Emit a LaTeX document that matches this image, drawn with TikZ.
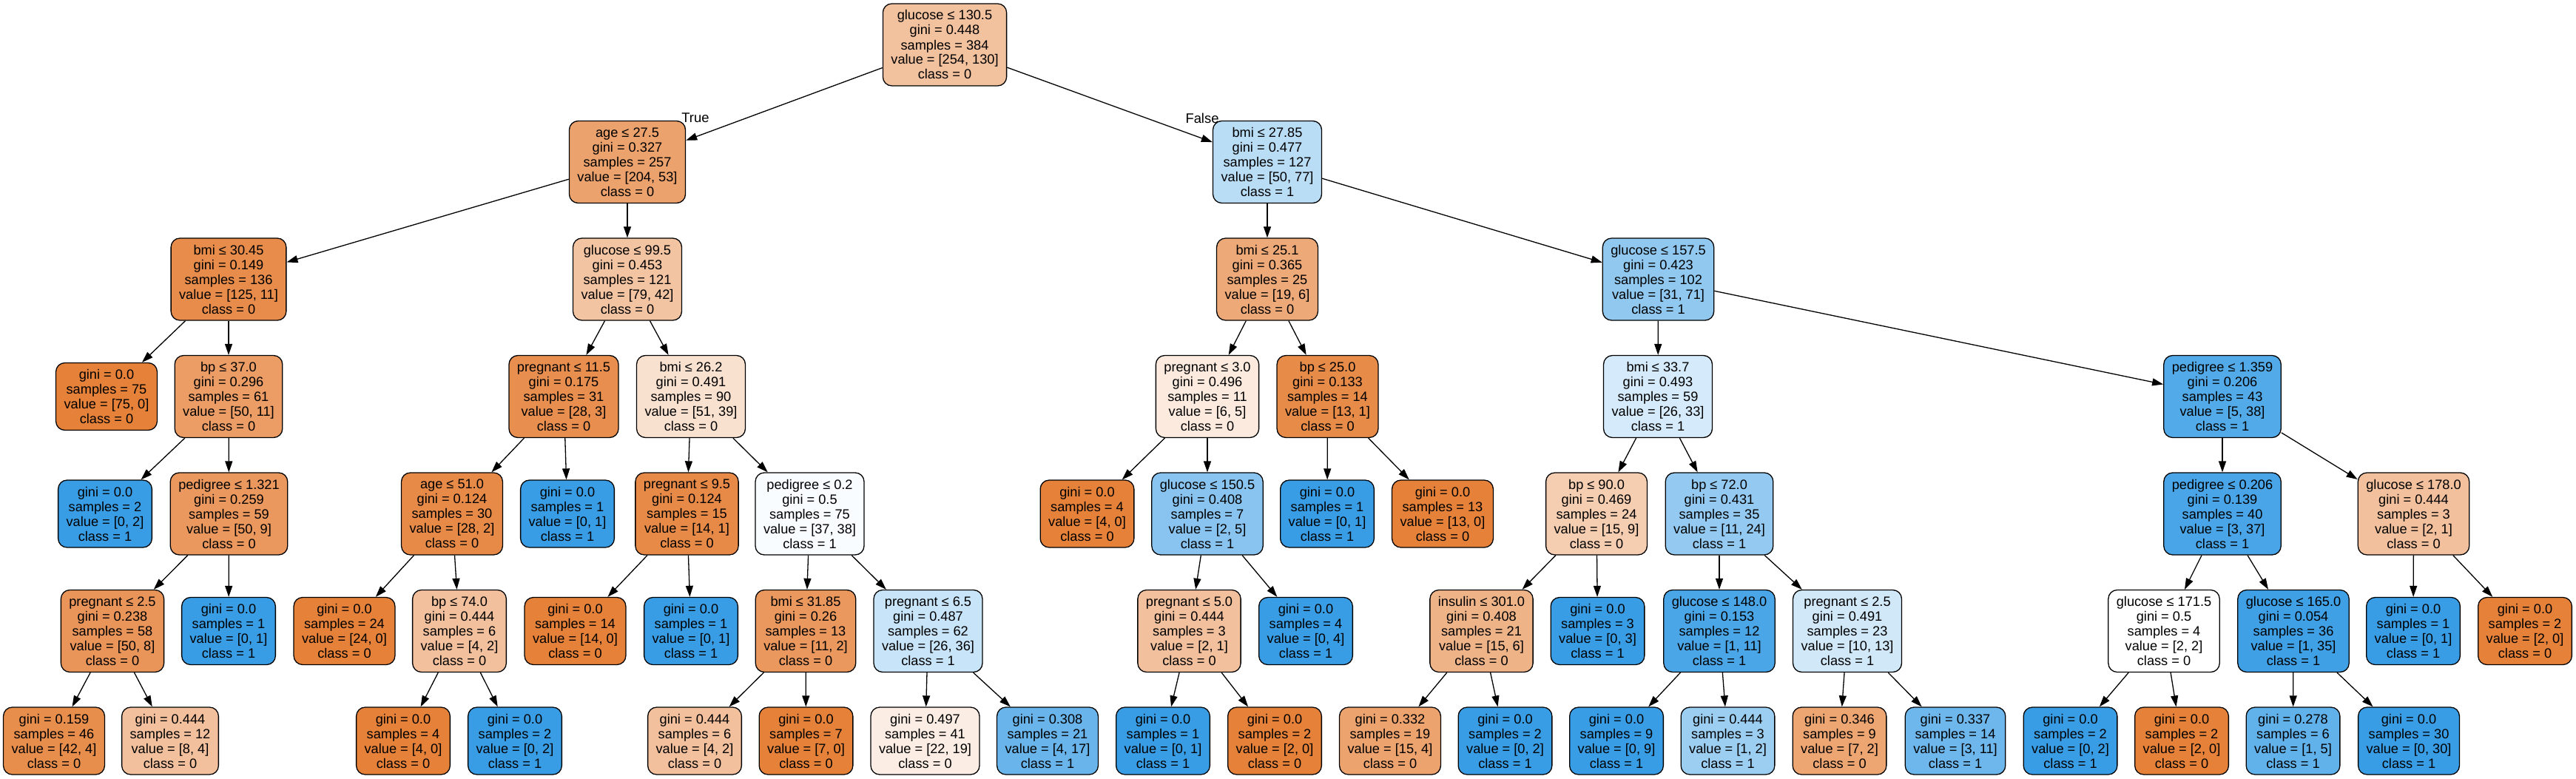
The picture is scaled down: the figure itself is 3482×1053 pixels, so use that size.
\documentclass[tikz,border=0pt]{standalone}
\usepackage{fontspec}
\setmainfont{Liberation Sans}
\usetikzlibrary{arrows.meta}
\definecolor{co}{RGB}{229,129,57}
\definecolor{cb}{RGB}{57,157,229}
\begin{document}
\begin{tikzpicture}[x=0.5pt,y=-0.5pt,
  tn/.style={draw=black, line width=0.65pt, rounded corners=6pt, align=center,
    inner xsep=5.5pt, inner ysep=1pt, font=\fontsize{9.1}{10}\selectfont},
  inn/.style={tn, minimum height=55.5pt},
  lf/.style={tn, minimum height=45.5pt},
  ed/.style={line width=0.65pt, -{Triangle[length=7.5pt,width=5pt]}},
  lbl/.style={font=\fontsize{9.2}{10}\selectfont, inner sep=0pt}]
\fill[white] (0,0) rectangle (3482,1053);
\useasboundingbox (0,0) rectangle (3482,1053);
% level 0
\node[inn, fill=co!49!white] (R) at (1277,60.5) {glucose ≤ 130.5\\gini = 0.448\\samples = 384\\value = [254, 130]\\class = 0};
% level 1
\node[inn, fill=co!74!white] (A) at (848,219) {age ≤ 27.5\\gini = 0.327\\samples = 257\\value = [204, 53]\\class = 0};
\node[inn, fill=cb!35!white] (B) at (1713,219) {bmi ≤ 27.85\\gini = 0.477\\samples = 127\\value = [50, 77]\\class = 1};
% level 2
\node[inn, fill=co!91!white] (AL) at (309,377.5) {bmi ≤ 30.45\\gini = 0.149\\samples = 136\\value = [125, 11]\\class = 0};
\node[inn, fill=co!47!white] (AR) at (848,377.5) {glucose ≤ 99.5\\gini = 0.453\\samples = 121\\value = [79, 42]\\class = 0};
\node[inn, fill=co!68!white] (BL) at (1713,377.5) {bmi ≤ 25.1\\gini = 0.365\\samples = 25\\value = [19, 6]\\class = 0};
\node[inn, fill=cb!56!white] (BR) at (2241.5,377.5) {glucose ≤ 157.5\\gini = 0.423\\samples = 102\\value = [31, 71]\\class = 1};
% level 3
\node[lf, fill=co] (ALL) at (144,536) {gini = 0.0\\samples = 75\\value = [75, 0]\\class = 0};
\node[inn, fill=co!78!white] (ALR) at (309,536) {bp ≤ 37.0\\gini = 0.296\\samples = 61\\value = [50, 11]\\class = 0};
\node[inn, fill=co!89!white] (ARL) at (762,536) {pregnant ≤ 11.5\\gini = 0.175\\samples = 31\\value = [28, 3]\\class = 0};
\node[inn, fill=co!24!white] (ARR) at (934,536) {bmi ≤ 26.2\\gini = 0.491\\samples = 90\\value = [51, 39]\\class = 0};
\node[inn, fill=co!17!white] (BLL) at (1632,536) {pregnant ≤ 3.0\\gini = 0.496\\samples = 11\\value = [6, 5]\\class = 0};
\node[inn, fill=co!92!white] (BLR) at (1794.5,536) {bp ≤ 25.0\\gini = 0.133\\samples = 14\\value = [13, 1]\\class = 0};
\node[inn, fill=cb!21!white] (BRL) at (2241,536) {bmi ≤ 33.7\\gini = 0.493\\samples = 59\\value = [26, 33]\\class = 1};
\node[inn, fill=cb!87!white] (BRR) at (3004,536) {pedigree ≤ 1.359\\gini = 0.206\\samples = 43\\value = [5, 38]\\class = 1};
% level 4
\node[lf, fill=cb] (ALRL) at (142,694.5) {gini = 0.0\\samples = 2\\value = [0, 2]\\class = 1};
\node[inn, fill=co!82!white] (ALRR) at (309.5,694.5) {pedigree ≤ 1.321\\gini = 0.259\\samples = 59\\value = [50, 9]\\class = 0};
\node[inn, fill=co!93!white] (ARLL) at (611,694.5) {age ≤ 51.0\\gini = 0.124\\samples = 30\\value = [28, 2]\\class = 0};
\node[lf, fill=cb] (ARLR) at (767,694.5) {gini = 0.0\\samples = 1\\value = [0, 1]\\class = 1};
\node[inn, fill=co!93!white] (ARRL) at (928.5,694.5) {pregnant ≤ 9.5\\gini = 0.124\\samples = 15\\value = [14, 1]\\class = 0};
\node[inn, fill=cb!3!white] (ARRR) at (1094.5,694.5) {pedigree ≤ 0.2\\gini = 0.5\\samples = 75\\value = [37, 38]\\class = 1};
\node[lf, fill=co] (BLLL) at (1469.5,694.5) {gini = 0.0\\samples = 4\\value = [4, 0]\\class = 0};
\node[inn, fill=cb!60!white] (BLLR) at (1632,694.5) {glucose ≤ 150.5\\gini = 0.408\\samples = 7\\value = [2, 5]\\class = 1};
\node[lf, fill=cb] (BLRL) at (1794,694.5) {gini = 0.0\\samples = 1\\value = [0, 1]\\class = 1};
\node[lf, fill=co] (BLRR) at (1950,694.5) {gini = 0.0\\samples = 13\\value = [13, 0]\\class = 0};
\node[inn, fill=co!40!white] (BRLL) at (2158,694.5) {bp ≤ 90.0\\gini = 0.469\\samples = 24\\value = [15, 9]\\class = 0};
\node[inn, fill=cb!54!white] (BRLR) at (2324,694.5) {bp ≤ 72.0\\gini = 0.431\\samples = 35\\value = [11, 24]\\class = 1};
\node[inn, fill=cb!92!white] (BRRL) at (3004,694.5) {pedigree ≤ 0.206\\gini = 0.139\\samples = 40\\value = [3, 37]\\class = 1};
\node[inn, fill=co!50!white] (BRRR) at (3262.5,694.5) {glucose ≤ 178.0\\gini = 0.444\\samples = 3\\value = [2, 1]\\class = 0};
% level 5
\node[inn, fill=co!84!white] (ALRRL) at (152,853) {pregnant ≤ 2.5\\gini = 0.238\\samples = 58\\value = [50, 8]\\class = 0};
\node[lf, fill=cb] (ALRRR) at (309,853) {gini = 0.0\\samples = 1\\value = [0, 1]\\class = 1};
\node[lf, fill=co] (ARLLL) at (465.5,853) {gini = 0.0\\samples = 24\\value = [24, 0]\\class = 0};
\node[inn, fill=co!50!white] (ARLLR) at (621,853) {bp ≤ 74.0\\gini = 0.444\\samples = 6\\value = [4, 2]\\class = 0};
\node[lf, fill=co] (ARRLL) at (777.5,853) {gini = 0.0\\samples = 14\\value = [14, 0]\\class = 0};
\node[lf, fill=cb] (ARRLR) at (934,853) {gini = 0.0\\samples = 1\\value = [0, 1]\\class = 1};
\node[inn, fill=co!82!white] (ARRRL) at (1089,853) {bmi ≤ 31.85\\gini = 0.26\\samples = 13\\value = [11, 2]\\class = 0};
\node[inn, fill=cb!28!white] (ARRRR) at (1254.5,853) {pregnant ≤ 6.5\\gini = 0.487\\samples = 62\\value = [26, 36]\\class = 1};
\node[inn, fill=co!50!white] (BLLRL) at (1607.5,853) {pregnant ≤ 5.0\\gini = 0.444\\samples = 3\\value = [2, 1]\\class = 0};
\node[lf, fill=cb] (BLLRR) at (1765,853) {gini = 0.0\\samples = 4\\value = [0, 4]\\class = 1};
\node[inn, fill=co!60!white] (BRLLL) at (2002.5,853) {insulin ≤ 301.0\\gini = 0.408\\samples = 21\\value = [15, 6]\\class = 0};
\node[lf, fill=cb] (BRLLR) at (2159.5,853) {gini = 0.0\\samples = 3\\value = [0, 3]\\class = 1};
\node[inn, fill=cb!91!white] (BRLRL) at (2324,853) {glucose ≤ 148.0\\gini = 0.153\\samples = 12\\value = [1, 11]\\class = 1};
\node[inn, fill=cb!23!white] (BRLRR) at (2497,853) {pregnant ≤ 2.5\\gini = 0.491\\samples = 23\\value = [10, 13]\\class = 1};
\node[inn, fill=white] (BRRLL) at (2925,853) {glucose ≤ 171.5\\gini = 0.5\\samples = 4\\value = [2, 2]\\class = 0};
\node[inn, fill=cb!97!white] (BRRLR) at (3100,853) {glucose ≤ 165.0\\gini = 0.054\\samples = 36\\value = [1, 35]\\class = 1};
\node[lf, fill=cb] (BRRRL) at (3262,853) {gini = 0.0\\samples = 1\\value = [0, 1]\\class = 1};
\node[lf, fill=co] (BRRRR) at (3413,853) {gini = 0.0\\samples = 2\\value = [2, 0]\\class = 0};
% level 6
\node[lf, fill=co!90!white] (Ga) at (73,1001.5) {gini = 0.159\\samples = 46\\value = [42, 4]\\class = 0};
\node[lf, fill=co!50!white] (Gb) at (230,1001.5) {gini = 0.444\\samples = 12\\value = [8, 4]\\class = 0};
\node[lf, fill=co] (Gc) at (545,1001.5) {gini = 0.0\\samples = 4\\value = [4, 0]\\class = 0};
\node[lf, fill=cb] (Gd) at (696,1001.5) {gini = 0.0\\samples = 2\\value = [0, 2]\\class = 1};
\node[lf, fill=co!50!white] (Ge) at (939,1001.5) {gini = 0.444\\samples = 6\\value = [4, 2]\\class = 0};
\node[lf, fill=co] (Gf) at (1089.5,1001.5) {gini = 0.0\\samples = 7\\value = [7, 0]\\class = 0};
\node[lf, fill=co!14!white] (Gg) at (1250.5,1001.5) {gini = 0.497\\samples = 41\\value = [22, 19]\\class = 0};
\node[lf, fill=cb!76!white] (Gh) at (1416,1001.5) {gini = 0.308\\samples = 21\\value = [4, 17]\\class = 1};
\node[lf, fill=cb] (Gi) at (1572,1001.5) {gini = 0.0\\samples = 1\\value = [0, 1]\\class = 1};
\node[lf, fill=co] (Gj) at (1723,1001.5) {gini = 0.0\\samples = 2\\value = [2, 0]\\class = 0};
\node[lf, fill=co!73!white] (Gk) at (1879,1001.5) {gini = 0.332\\samples = 19\\value = [15, 4]\\class = 0};
\node[lf, fill=cb] (Gl) at (2034.5,1001.5) {gini = 0.0\\samples = 2\\value = [0, 2]\\class = 1};
\node[lf, fill=cb] (Gm) at (2185,1001.5) {gini = 0.0\\samples = 9\\value = [0, 9]\\class = 1};
\node[lf, fill=cb!50!white] (Gn) at (2335.5,1001.5) {gini = 0.444\\samples = 3\\value = [1, 2]\\class = 1};
\node[lf, fill=co!71!white] (Go) at (2486.5,1001.5) {gini = 0.346\\samples = 9\\value = [7, 2]\\class = 0};
\node[lf, fill=cb!73!white] (Gp) at (2643,1001.5) {gini = 0.337\\samples = 14\\value = [3, 11]\\class = 1};
\node[lf, fill=cb] (Gq) at (2798.5,1001.5) {gini = 0.0\\samples = 2\\value = [0, 2]\\class = 1};
\node[lf, fill=co] (Gr) at (2949,1001.5) {gini = 0.0\\samples = 2\\value = [2, 0]\\class = 0};
\node[lf, fill=cb!80!white] (Gs) at (3099.5,1001.5) {gini = 0.278\\samples = 6\\value = [1, 5]\\class = 1};
\node[lf, fill=cb] (Gt) at (3256,1001.5) {gini = 0.0\\samples = 30\\value = [0, 30]\\class = 1};
% edge labels
\node[lbl] (lt) at (940,159) {True};
\node[lbl] (lfa) at (1625,160) {False};
% edges
\foreach \p/\c in {R/A,R/B,A/AL,A/AR,B/BL,B/BR,AL/ALL,AL/ALR,AR/ARL,AR/ARR,BL/BLL,BL/BLR,BR/BRL,BR/BRR,
  ALR/ALRL,ALR/ALRR,ARL/ARLL,ARL/ARLR,ARR/ARRL,ARR/ARRR,BLL/BLLL,BLL/BLLR,BLR/BLRL,BLR/BLRR,
  BRL/BRLL,BRL/BRLR,BRR/BRRL,BRR/BRRR,ALRR/ALRRL,ALRR/ALRRR,ARLL/ARLLL,ARLL/ARLLR,ARRL/ARRLL,ARRL/ARRLR,
  ARRR/ARRRL,ARRR/ARRRR,BLLR/BLLRL,BLLR/BLLRR,BRLL/BRLLL,BRLL/BRLLR,BRLR/BRLRL,BRLR/BRLRR,
  BRRL/BRRLL,BRRL/BRRLR,BRRR/BRRRL,BRRR/BRRRR,ALRRL/Ga,ALRRL/Gb,ARLLR/Gc,ARLLR/Gd,ARRRL/Ge,ARRRL/Gf,
  ARRRR/Gg,ARRRR/Gh,BLLRL/Gi,BLLRL/Gj,BRLLL/Gk,BRLLL/Gl,BRLRL/Gm,BRLRL/Gn,BRLRR/Go,BRLRR/Gp,
  BRRLL/Gq,BRRLL/Gr,BRRLR/Gs,BRRLR/Gt}
  \draw[ed] (\p) -- (\c);
\end{tikzpicture}
\end{document}
